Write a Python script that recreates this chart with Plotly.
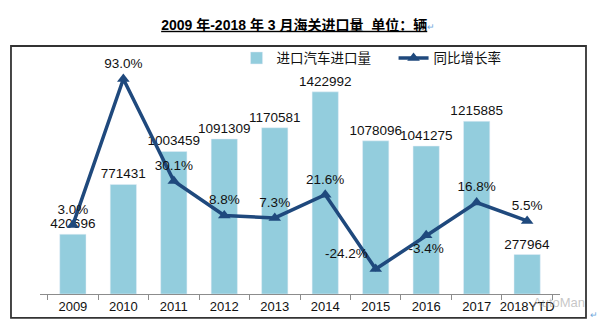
import plotly.graph_objects as go

categories = ["2009", "2010", "2011", "2012", "2013", "2014", "2015", "2016", "2017", "2018YTD"]
import_volume = [420696, 771431, 1003459, 1091309, 1170581, 1422992, 1078096, 1041275, 1215885, 277964]
yoy_growth = [3.0, 93.0, 30.1, 8.8, 7.3, 21.6, -24.2, -3.4, 16.8, 5.5]
growth_labels = ["3.0%", "93.0%", "30.1%", "8.8%", "7.3%", "21.6%", "-24.2%", "-3.4%", "16.8%", "5.5%"]
growth_pos = ["top center", "top center", "top center", "top center", "top center",
              "top center", "top left", "bottom center", "top center", "top center"]

FONT = "Arial, 'Liberation Sans', 'Noto Sans CJK SC', sans-serif"

fig = go.Figure()
fig.add_trace(go.Bar(
    x=categories, y=import_volume, name="进口汽车进口量",
    marker=dict(color="#93CDDD"), width=0.52,
    text=[str(v) for v in import_volume], textposition="outside",
    constraintext="none",
    textfont=dict(size=13.5, color="#111111", family=FONT),
    cliponaxis=False,
))
fig.add_trace(go.Scatter(
    x=categories, y=yoy_growth, name="同比增长率", yaxis="y2",
    mode="lines+markers+text",
    line=dict(color="#1F497D", width=3.5),
    marker=dict(symbol="triangle-up", size=11, color="#1F497D"),
    text=growth_labels, textposition=growth_pos,
    textfont=dict(size=13.5, color="#111111", family=FONT),
    cliponaxis=False,
))

fig.update_layout(
    width=600, height=332,
    margin=dict(l=40, r=40, t=50, b=38, autoexpand=False),
    paper_bgcolor="white", plot_bgcolor="white",
    font=dict(family=FONT, size=13, color="#111111"),
    title=dict(
        text="<b><u>2009 年-2018 年 3 月海关进口量  单位：辆</u></b><span style='color:#6FA8DC;font-size:9px'>↵</span>",
        x=0.497, xanchor="center", y=0.925, yanchor="middle",
        font=dict(size=14, color="#000000", family=FONT),
    ),
    xaxis=dict(
        type="category", showline=True, linecolor="#8C8C8C", linewidth=1,
        ticks="outside", tickson="boundaries", ticklen=5, tickcolor="#8C8C8C",
        tickangle=0, automargin=False,
        tickfont=dict(size=13, color="#111111"), showgrid=False,
    ),
    yaxis=dict(range=[0, 1717760], visible=False, showgrid=False, automargin=False),
    yaxis2=dict(range=[-39.6, 110.9], overlaying="y", side="right", visible=False,
                showgrid=False, automargin=False),
    showlegend=True,
    legend=dict(
        orientation="h", x=0.378, xanchor="left", y=1.03, yanchor="top",
        font=dict(size=13.5, color="#111111"), bgcolor="rgba(0,0,0,0)",
        itemwidth=30, traceorder="normal", entrywidth=112, entrywidthmode="pixels",
    ),
    bargap=0.48,
)

fig.add_shape(type="rect", xref="paper", yref="paper",
              x0=-0.0558, x1=1.05, y0=-0.098, y1=1.0164,
              line=dict(color="#333333", width=1.8), fillcolor="rgba(0,0,0,0)", layer="above")

fig.add_annotation(text="AutoMan", xref="paper", yref="paper", x=0.998, y=-0.035,
                   showarrow=False, font=dict(size=13, color="rgba(150,150,150,0.55)"),
                   xanchor="center", yanchor="middle")
fig.add_annotation(text="↵", xref="paper", yref="paper", x=1.065, y=-0.085,
                   showarrow=False, font=dict(size=9, color="#6FA8DC"),
                   xanchor="center", yanchor="middle")

fig.write_html("out.html")
